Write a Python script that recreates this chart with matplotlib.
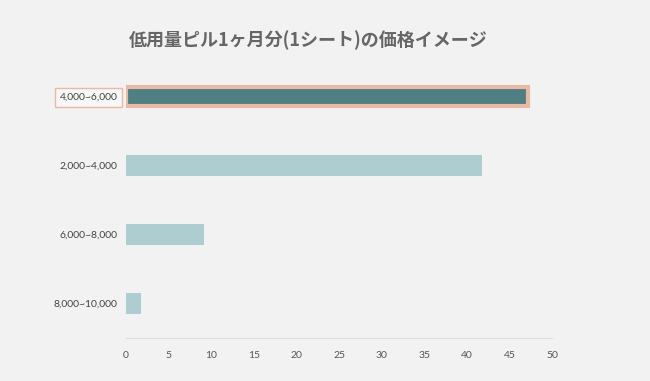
import matplotlib.pyplot as plt

categories = ['4,000~6,000', '2,000~4,000', '6,000~8,000', '8,000~10,000']
values = [47.2, 41.8, 9.2, 1.8]
highlight = '4,000~6,000'
xticks = [0, 5, 10, 15, 20, 25, 30, 35, 40, 45, 50]

plt.rcParams['font.family'] = ['Lato', 'Noto Sans CJK JP', 'DejaVu Sans']

bg = '#f2f2f2'
fig = plt.figure(figsize=(6.5, 3.81), dpi=100, facecolor=bg)
ax = fig.add_axes([126 / 650, 1 - 338 / 381, 426 / 650, 276 / 381])
ax.set_facecolor(bg)

ypos = list(range(len(categories)))[::-1]
for y, cat, v in zip(ypos, categories, values):
    if cat == highlight:
        ax.barh(y, v, height=0.27, color='#4f7f83', edgecolor='#e8b9a5',
                linewidth=3)
    else:
        ax.barh(y, v, height=0.3, color='#aecdd1')

ax.set_ylim(-0.5, len(categories) - 0.5)
ax.set_xlim(0, 50)
ax.set_yticks(ypos)
ax.set_yticklabels(categories, fontsize=7.5, color='#444444')
ax.set_xticks(xticks)
ax.set_xticklabels([str(t) for t in xticks], fontsize=7.5, color='#555555')
ax.tick_params(length=0)
ax.tick_params(axis='x', pad=9)
ax.tick_params(axis='y', pad=6)
for lbl in ax.get_yticklabels():
    if lbl.get_text() == highlight:
        lbl.set_bbox(dict(facecolor='#f7f7f7', edgecolor='#e8b9a5',
                          linewidth=1, boxstyle='square,pad=0.45'))

for s in ['top', 'right', 'left']:
    ax.spines[s].set_visible(False)
ax.spines['bottom'].set_color('#dddddd')

fig.text(308 / 650, 1 - 40 / 381, '低用量ピル1ヶ月分(1シート)の価格イメージ',
         ha='center', va='center', fontsize=13, fontweight='bold',
         color='#666666', family=['Noto Sans CJK JP', 'DejaVu Sans'])

fig.savefig('out.png', dpi=100, facecolor=bg)
